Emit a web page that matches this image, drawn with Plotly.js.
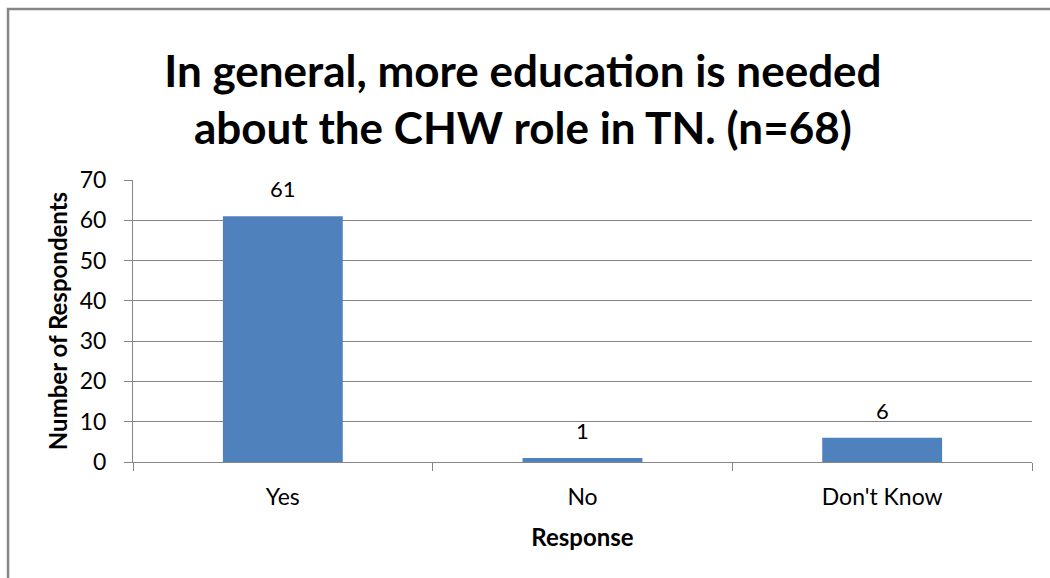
<!DOCTYPE html>
<html>
<head>
<meta charset="utf-8">
<script src="https://cdn.plot.ly/plotly-3.0.1.min.js"></script>
<style>
html,body{margin:0;padding:0;background:#fff;}
#chart{width:1050px;height:578px;}
</style>
</head>
<body>
<div id="chart"></div>
<script>
const categories = ["Yes", "No", "Don't Know"];
const respondents = [61, 1, 6];
const yTicks = [0, 10, 20, 30, 40, 50, 60, 70];
const chartTitle = "In general, more education is needed<br>about the CHW role in TN. (n=68)";
const xTitle = "Response";
const yTitle = "Number of Respondents";

const FONT = "Lato, 'Open Sans', sans-serif";

const trace = {
  type: "bar",
  x: categories,
  y: respondents,
  marker: {color: "#4F81BD", line: {width: 0}},
  hoverinfo: "x+y"
};

const labels = categories.map((c, i) => ({
  x: c, y: respondents[i], xref: "x", yref: "y",
  text: String(respondents[i]),
  showarrow: false,
  yanchor: "bottom",
  yshift: 12,
  font: {family: FONT, size: 22, color: "#000"}
}));

const layout = {
  width: 1050,
  height: 578,
  margin: {l: 133, r: 18, t: 180, b: 116},
  paper_bgcolor: "#fff",
  plot_bgcolor: "#fff",
  showlegend: false,
  bargap: 0.6,
  font: {family: FONT, color: "#000"},
  title: {
    text: chartTitle,
    font: {family: FONT, size: 44, color: "#000", weight: "bold"},
    x: 0.498, xanchor: "center",
    y: 0.85, yanchor: "middle"
  },
  xaxis: {
    type: "category",
    showgrid: false,
    showline: true,
    linecolor: "#868686",
    linewidth: 1,
    ticks: "outside",
    tickson: "boundaries",
    ticklen: 8,
    tickcolor: "#868686",
    tickfont: {family: FONT, size: 23, color: "#000"},
    ticklabelstandoff: 14,
    title: {text: xTitle, font: {family: FONT, size: 24, color: "#000", weight: "bold"}, standoff: 20}
  },
  yaxis: {
    range: [0, 70],
    tickvals: yTicks,
    showgrid: true,
    gridcolor: "#868686",
    gridwidth: 1,
    showline: true,
    linecolor: "#868686",
    linewidth: 1,
    ticks: "outside",
    ticklen: 8,
    tickcolor: "#868686",
    tickfont: {family: FONT, size: 23, color: "#000"},
    ticklabelstandoff: 13,
    zeroline: false,
    title: {text: yTitle, font: {family: FONT, size: 24, color: "#000", weight: "bold"}, standoff: 5}
  },
  annotations: labels,
  shapes: [{
    type: "rect", xref: "paper", yref: "paper",
    x0: -0.139, x1: 1.2, y0: -0.6, y1: 1.606,
    line: {color: "#868686", width: 2.5},
    fillcolor: "rgba(0,0,0,0)",
    layer: "below"
  }]
};

Plotly.newPlot("chart", [trace], layout, {displayModeBar: false, staticPlot: true});
</script>
</body>
</html>
